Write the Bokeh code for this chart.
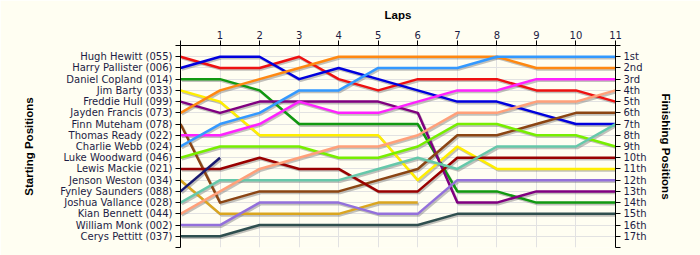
from bokeh.plotting import figure
from bokeh.models import Range1d, LinearAxis, FixedTicker, ColumnDataSource
from bokeh.transform import dodge
from bokeh.embed import file_html
from bokeh.resources import INLINE

# ---- data -------------------------------------------------------------
drivers = [
    "Hugh Hewitt (055)", "Harry Pallister (006)", "Daniel Copland (014)",
    "Jim Barty (033)", "Freddie Hull (099)", "Jayden Francis (073)",
    "Finn Muteham (078)", "Thomas Ready (022)", "Charlie Webb (024)",
    "Luke Woodward (046)", "Lewis Mackie (021)", "Jenson Weston (034)",
    "Fynley Saunders (088)", "Joshua Vallance (028)", "Kian Bennett (044)",
    "William Monk (002)", "Cerys Pettitt (037)",
]
finish_labels = ["1st", "2nd", "3rd", "4th", "5th", "6th", "7th", "8th", "9th",
                 "10th", "11th", "12th", "13th", "14th", "15th", "16th", "17th"]
lap_ticks = list(range(1, 12))

# position after each lap (lap 0 = start)
pos_hewitt    = [1, 2, 2, 1, 3, 4, 3, 3, 3, 4, 4, 5]
pos_pallister = [2, 1, 1, 3, 2, 3, 4, 5, 5, 6, 7, 7]
pos_copland   = [3, 3, 4, 7, 7, 7, 7, 13, 13, 14, 14, 14]
pos_barty     = [4, 5, 8, 8, 8, 8, 12, 9, 11, 11, 11, 11]
pos_hull      = [5, 6, 5, 5, 5, 5, 6, 14, 14, 13, 13, 13]
pos_francis   = [6, 4, 3, 2, 1, 1, 1, 1, 1, 2, 2, 2]
pos_muteham   = [7, 14, 13, 13, 13, 12, 11, 8, 8, 7, 6, 6]
pos_ready     = [8, 8, 7, 5, 6, 6, 5, 4, 4, 3, 3, 3]
pos_webb      = [9, 7, 6, 4, 4, 2, 2, 2, 1, 1, 1, 1]
pos_woodward  = [10, 9, 9, 9, 10, 10, 9, 7, 7, 8, 8, 9]
pos_mackie    = [11, 11, 10, 11, 11, 13, 13, 10, 10, 10, 10, 10]
pos_weston    = [12, 15, 15, 15, 15, 14, 14]
pos_saunders  = [13, 10]
pos_vallance  = [14, 12, 12, 12, 12, 11, 10, 11, 9, 9, 9, 7]
pos_bennett   = [15, 13, 11, 10, 9, 9, 8, 6, 6, 5, 5, 4]
pos_monk      = [16, 16, 14, 14, 14, 15, 15, 12, 12, 12, 12, 12]
pos_pettitt   = [17, 17, 16, 16, 16, 16, 16, 15, 15, 15, 15, 15]

series = [pos_hewitt, pos_pallister, pos_copland, pos_barty, pos_hull,
          pos_francis, pos_muteham, pos_ready, pos_webb, pos_woodward,
          pos_mackie, pos_weston, pos_saunders, pos_vallance, pos_bennett,
          pos_monk, pos_pettitt]

colors = ["#ee1111", "#0000dd", "#119911", "#ffee00", "#800080", "#ff8811",
          "#8b4513", "#ff22ff", "#3399ff", "#77ee00", "#990000", "#daa520",
          "#191970", "#66c8aa", "#ffa07a", "#9370db", "#2f4f4f"]

# ---- figure -----------------------------------------------------------
BG = "#fffef2"
TXT = "#1c1c44"

p = figure(width=700, height=255, output_backend="svg", toolbar_location=None,
           x_range=Range1d(0, 11), y_range=Range1d(18, 0),
           x_axis_location="above", y_axis_location="left",
           min_border_left=180, min_border_right=85,
           min_border_top=45, min_border_bottom=8)
p.background_fill_color = BG
p.border_fill_color = BG
p.outline_line_color = None

# grids
p.xgrid.ticker = FixedTicker(ticks=list(range(0, 12)))
p.ygrid.ticker = FixedTicker(ticks=list(range(0, 19)))
for g in (p.xgrid, p.ygrid):
    g.grid_line_color = "#e2e2e2"
    g.grid_line_width = 1

def style_axis(ax, size="10px"):
    ax.axis_line_color = "black"
    ax.major_tick_line_color = "black"
    ax.minor_tick_line_color = None
    ax.major_tick_out = 5
    ax.major_tick_in = 0
    ax.major_label_text_font = "DejaVu Sans"
    ax.major_label_text_font_size = size
    ax.major_label_text_color = TXT
    ax.major_label_standoff = 3
    ax.axis_label_text_font = "Liberation Sans"
    ax.axis_label_text_font_style = "bold"
    ax.axis_label_text_font_size = "11.5px"
    ax.axis_label_text_color = "black"

# top axis (laps)
xa = p.xaxis[0]
xa.ticker = FixedTicker(ticks=[0] + lap_ticks)
xa.major_label_overrides = {0: ""}
xa.axis_label = "Laps"
style_axis(xa)
xa.major_label_standoff = 2
xa.axis_label_standoff = 7

# left axis (starting positions)
ya = p.yaxis[0]
ya.ticker = FixedTicker(ticks=list(range(0, 19)))
ya.major_label_overrides = {i: (drivers[i - 1] if 1 <= i <= 17 else "") for i in range(19)}
ya.axis_label = "Starting Positions"
style_axis(ya)
ya.axis_label_standoff = 22

# right axis (finishing positions)
ra = LinearAxis(ticker=FixedTicker(ticks=list(range(0, 19))))
ra.major_label_overrides = {i: (finish_labels[i - 1] if 1 <= i <= 17 else "") for i in range(19)}
ra.axis_label = "Finishing Positions"
style_axis(ra)
ra.axis_label_standoff = 11
p.add_layout(ra, "right")

# lines with a soft shadow
for pos, col in zip(series, colors):
    src = ColumnDataSource(dict(x=list(range(len(pos))), y=pos))
    p.line(x=dodge("x", 0.035, range=p.x_range), y=dodge("y", 0.14, range=p.y_range),
           source=src, line_color="#777777", line_alpha=0.45, line_width=2.5,
           line_join="round")
for pos, col in zip(series, colors):
    src = ColumnDataSource(dict(x=list(range(len(pos))), y=pos))
    p.line(x="x", y="y", source=src, line_color=col, line_width=2.5,
           line_join="round")

open("out.html", "w").write(file_html(p, INLINE))
